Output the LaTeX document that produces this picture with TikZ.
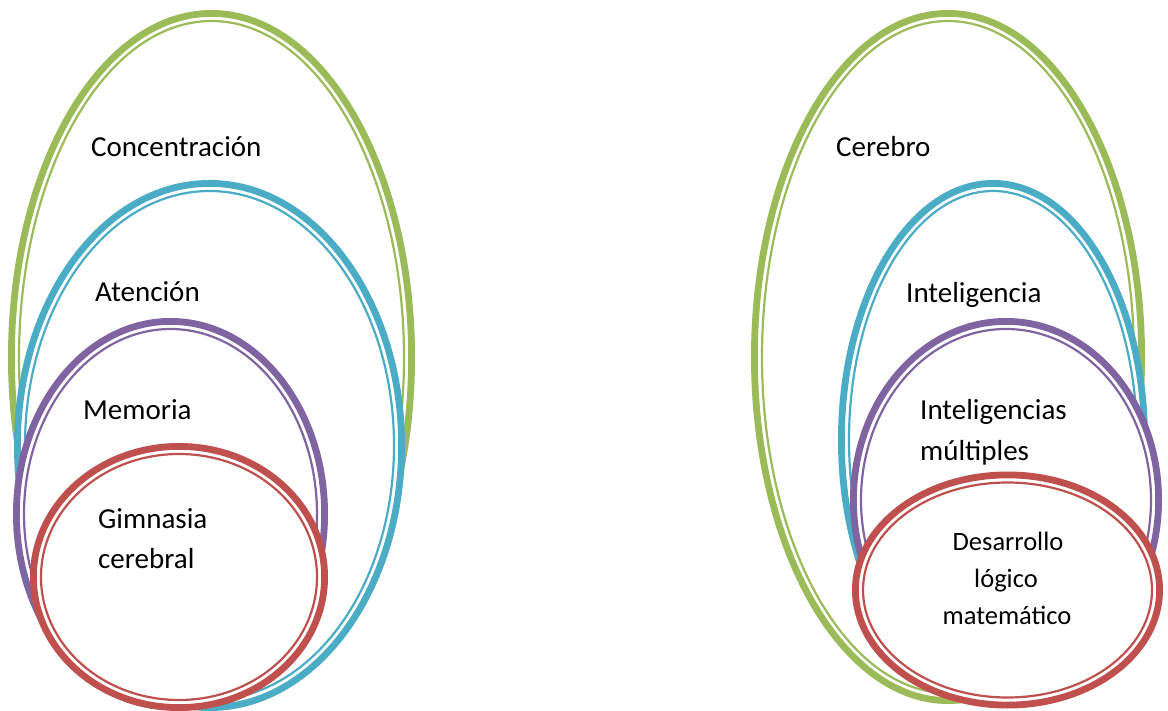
\documentclass[tikz,border=0pt]{standalone}
\usepackage{fontspec}
\setmainfont{Carlito}
\definecolor{ringgreen}{HTML}{9BBB59}
\definecolor{ringblue}{HTML}{4BACC6}
\definecolor{ringpurple}{HTML}{8064A2}
\definecolor{ringred}{HTML}{C0504D}
% one nested ring: white filled ellipse with a thick outer and a thin inner outline
% #1 centre x, #2 centre y, #3 outer x radius, #4 outer y radius, #5 colour
\newcommand{\targetring}[5]{%
  \filldraw[fill=white, draw=#5, line width=6.8] (#1,#2) ellipse [x radius=#3-3.4, y radius=#4-3.4];
  \draw[draw=#5, line width=2.2] (#1,#2) ellipse [x radius=#3-11, y radius=#4-11];
}
\tikzset{
  biglabel/.style={font=\fontsize{29}{34}\selectfont, anchor=base west, inner sep=0pt},
  smalllabel/.style={font=\fontsize{26.5}{37}\selectfont, anchor=base, inner sep=0pt, align=center},
}
\begin{document}
\begin{tikzpicture}[x=1pt, y=-1pt]
\useasboundingbox[fill=white] (0,0) rectangle (1168,711);

% left target
\targetring{211.5}{357.5}{203.5}{347.5}{ringgreen}
\targetring{209.5}{445.5}{195.5}{265.5}{ringblue}
\targetring{170.5}{514}{157.5}{196}{ringpurple}
\targetring{179}{577}{149}{134}{ringred}

\node[biglabel] (concentracion) at (91,157) {Concentración};
\node[biglabel] (atencion) at (95,302) {Atención};
\node[biglabel] (memoria) at (83,420) {Memoria};
\node[biglabel] (gimnasia) at (98,528) {Gimnasia};
\node[biglabel] (cerebral) at (98,568) {cerebral};

% right target
\targetring{948}{357}{197}{347}{ringgreen}
\targetring{993}{440}{155}{260}{ringblue}
\targetring{1006}{500}{156}{182}{ringpurple}
\targetring{1007.5}{590}{155.5}{118.5}{ringred}

\node[biglabel] (cerebro) at (836,157) {Cerebro};
\node[biglabel] (inteligencia) at (906,303) {Inteligencia};
\node[biglabel] (inteligencias) at (920,420) {Inteligencias};
\node[biglabel] (multiples) at (920,460) {múltiples};
\node[smalllabel] (desarrollo) at (1008,550) {Desarrollo};
\node[smalllabel] (logico) at (1006,587) {lógico};
\node[smalllabel] (matematico) at (1007,624) {matemático};
\end{tikzpicture}
\end{document}
